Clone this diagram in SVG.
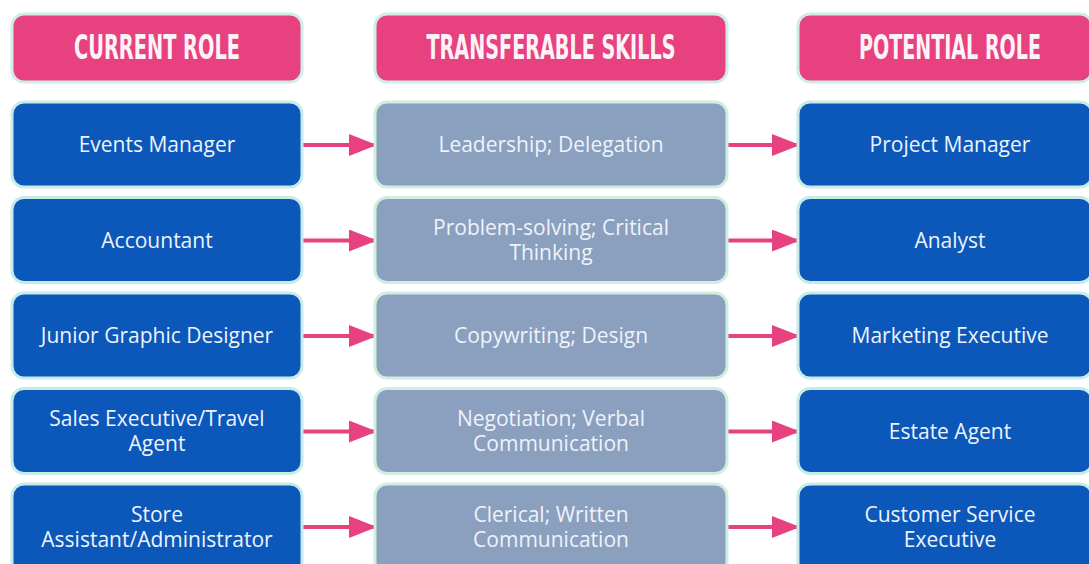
<svg xmlns="http://www.w3.org/2000/svg" width="1089" height="564" viewBox="0 0 1089 564">
<defs>
<style>
.hdr{fill:#e8417f;stroke:#cdeee8;stroke-width:3}
.role{fill:#0b57ba;stroke:#c6ecea;stroke-width:3}
.skill{fill:#8b9fbf;stroke:#cdeee0;stroke-width:3}
.ht{font-family:"DejaVu Sans Condensed","Liberation Sans Narrow","Liberation Sans",sans-serif;font-weight:bold;font-size:33px;fill:#fdf3f7;text-anchor:middle}
.bt{font-family:"Open Sans","Noto Sans","Liberation Sans",sans-serif;font-size:21px;font-weight:500;fill:#eef3fa;text-anchor:middle}
.conn{stroke:#e8417f;stroke-width:4;fill:none}
</style>
<marker id="ah" markerUnits="userSpaceOnUse" markerWidth="30" markerHeight="22" refX="28" refY="11" orient="auto">
<path d="M0,0 L28,11 L0,22 Z" fill="#e8417f"/>
</marker>
</defs>
<rect width="1089" height="564" fill="#ffffff"/>

<g id="connectors">
<line class="conn" x1="302" y1="145" x2="377" y2="145" marker-end="url(#ah)"/>
<line class="conn" x1="727" y1="145" x2="800" y2="145" marker-end="url(#ah)"/>
<line class="conn" x1="302" y1="240.5" x2="377" y2="240.5" marker-end="url(#ah)"/>
<line class="conn" x1="727" y1="240.5" x2="800" y2="240.5" marker-end="url(#ah)"/>
<line class="conn" x1="302" y1="336" x2="377" y2="336" marker-end="url(#ah)"/>
<line class="conn" x1="727" y1="336" x2="800" y2="336" marker-end="url(#ah)"/>
<line class="conn" x1="302" y1="431.5" x2="377" y2="431.5" marker-end="url(#ah)"/>
<line class="conn" x1="727" y1="431.5" x2="800" y2="431.5" marker-end="url(#ah)"/>
<line class="conn" x1="302" y1="527" x2="377" y2="527" marker-end="url(#ah)"/>
<line class="conn" x1="727" y1="527" x2="800" y2="527" marker-end="url(#ah)"/>
</g>

<g id="hdr-current"><rect class="hdr" x="12" y="14" width="290" height="68" rx="12"/><text class="ht" x="157" y="59" textLength="166" lengthAdjust="spacingAndGlyphs">CURRENT ROLE</text></g>
<g id="hdr-skills"><rect class="hdr" x="375" y="14" width="352" height="68" rx="12"/><text class="ht" x="551" y="59" textLength="249" lengthAdjust="spacingAndGlyphs">TRANSFERABLE SKILLS</text></g>
<g id="hdr-potential"><rect class="hdr" x="798" y="14" width="294" height="68" rx="12"/><text class="ht" x="950" y="59" textLength="182" lengthAdjust="spacingAndGlyphs">POTENTIAL ROLE</text></g>

<g id="cur1"><rect class="role" x="12" y="102" width="290" height="85" rx="12"/><text class="bt" x="157" y="152">Events Manager</text></g>
<g id="skl1"><rect class="skill" x="375" y="102" width="352" height="85" rx="12"/><text class="bt" x="551" y="152">Leadership; Delegation</text></g>
<g id="pot1"><rect class="role" x="798" y="102" width="294" height="85" rx="12"/><text class="bt" x="950" y="152">Project Manager</text></g>

<g id="cur2"><rect class="role" x="12" y="197.5" width="290" height="85" rx="12"/><text class="bt" x="157" y="247.5">Accountant</text></g>
<g id="skl2"><rect class="skill" x="375" y="197.5" width="352" height="85" rx="12"/><text class="bt" x="551" y="235">Problem-solving; Critical</text><text class="bt" x="551" y="260">Thinking</text></g>
<g id="pot2"><rect class="role" x="798" y="197.5" width="294" height="85" rx="12"/><text class="bt" x="950" y="247.5">Analyst</text></g>

<g id="cur3"><rect class="role" x="12" y="293" width="290" height="85" rx="12"/><text class="bt" x="157" y="343">Junior Graphic Designer</text></g>
<g id="skl3"><rect class="skill" x="375" y="293" width="352" height="85" rx="12"/><text class="bt" x="551" y="343">Copywriting; Design</text></g>
<g id="pot3"><rect class="role" x="798" y="293" width="294" height="85" rx="12"/><text class="bt" x="950" y="343">Marketing Executive</text></g>

<g id="cur4"><rect class="role" x="12" y="388.5" width="290" height="85" rx="12"/><text class="bt" x="157" y="426">Sales Executive/Travel</text><text class="bt" x="157" y="451">Agent</text></g>
<g id="skl4"><rect class="skill" x="375" y="388.5" width="352" height="85" rx="12"/><text class="bt" x="551" y="426">Negotiation; Verbal</text><text class="bt" x="551" y="451">Communication</text></g>
<g id="pot4"><rect class="role" x="798" y="388.5" width="294" height="85" rx="12"/><text class="bt" x="950" y="438.5">Estate Agent</text></g>

<g id="cur5"><rect class="role" x="12" y="484" width="290" height="90" rx="12"/><text class="bt" x="157" y="522">Store</text><text class="bt" x="157" y="547">Assistant/Administrator</text></g>
<g id="skl5"><rect class="skill" x="375" y="484" width="352" height="90" rx="12"/><text class="bt" x="551" y="522">Clerical; Written</text><text class="bt" x="551" y="547">Communication</text></g>
<g id="pot5"><rect class="role" x="798" y="484" width="294" height="90" rx="12"/><text class="bt" x="950" y="522">Customer Service</text><text class="bt" x="950" y="547">Executive</text></g>
</svg>
